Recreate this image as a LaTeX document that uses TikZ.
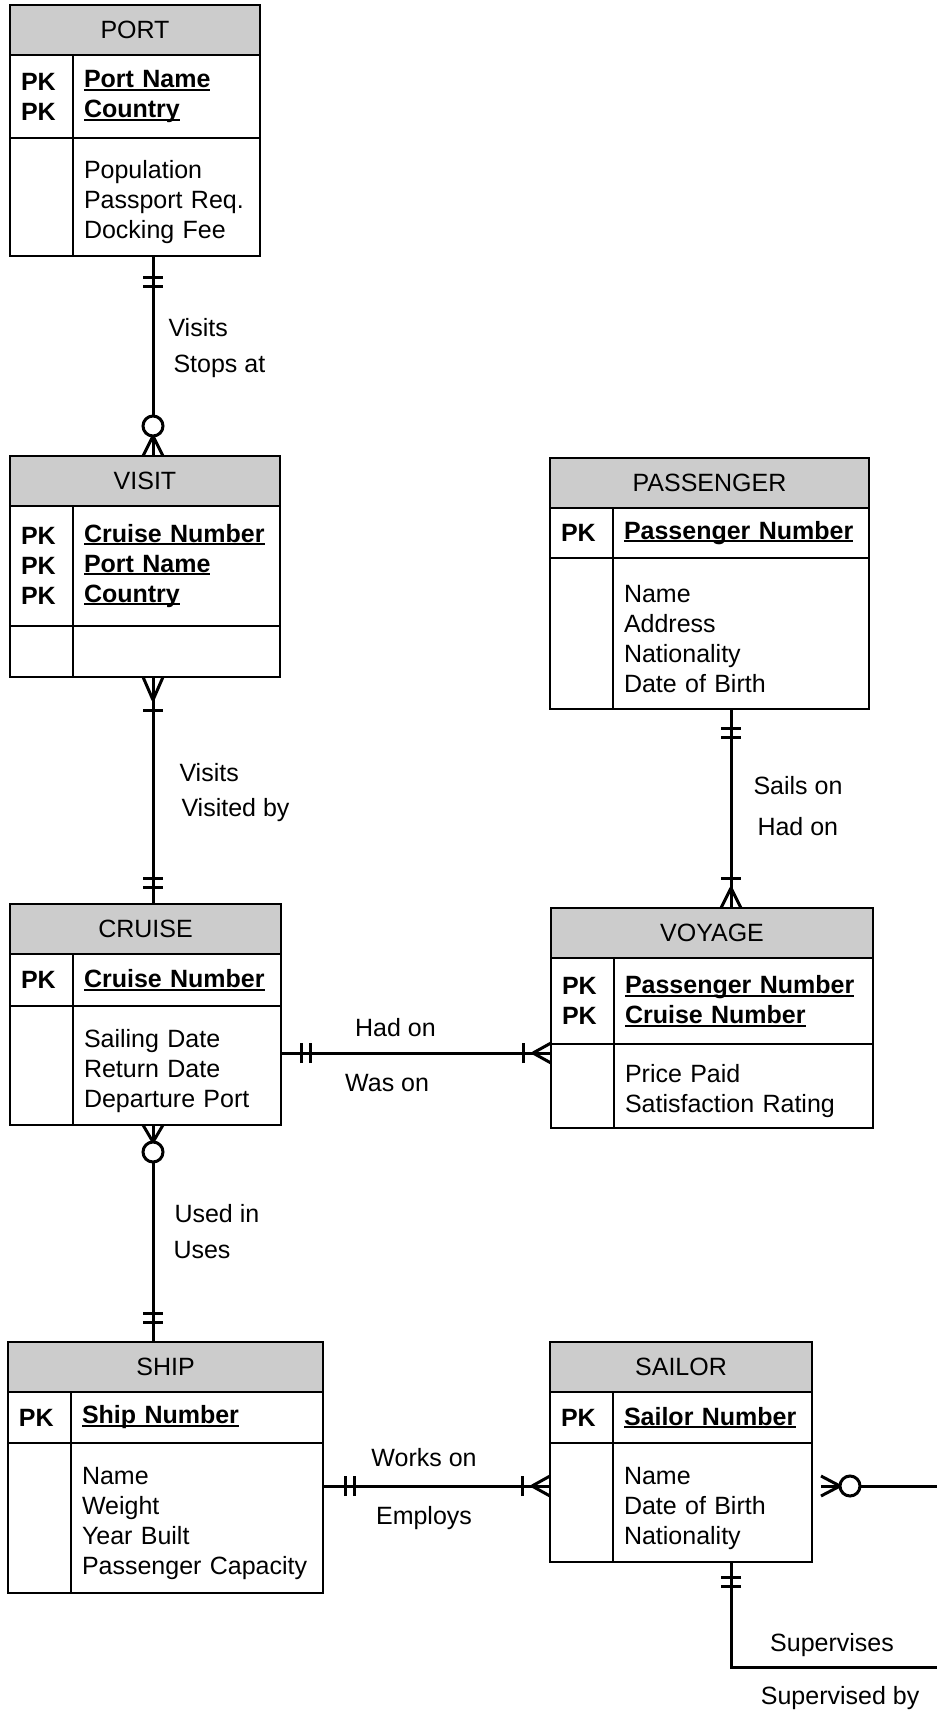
\documentclass[tikz,border=0pt]{standalone}
\usepackage{fontspec}
\setmainfont{Liberation Sans}
\usetikzlibrary{positioning,decorations.markings}
\newcommand\erfont{\fontsize{25pt}{30pt}\selectfont}
\newcommand\keyfield[1]{\leavevmode\setbox0\hbox{\bfseries #1}\rlap{\rule[-3pt]{\wd0}{2pt}}\box0}
\tikzset{
    ent-title/.style = {draw, fill=gray!40, line width=1.4pt, outer sep=0pt, anchor=north west, minimum height=50pt, inner sep=0pt, font=\erfont},
    ent-key/.style = {draw, line width=1.4pt, outer sep=0pt, anchor=north west, text width=41pt, inner xsep=11pt, inner ysep=0pt, align=left, font=\erfont\bfseries},
    ent-field/.style = {draw, line width=1.4pt, outer sep=0pt, anchor=north west, inner xsep=11pt, inner ysep=0pt, align=left, font=\erfont},
    ent-attr/.style = {ent-field, execute at begin node={\leavevmode\rule{0pt}{29pt}}},
    conn/.style = {line width=3pt},
    conn-label/.style = {inner sep=0pt, font=\erfont},
    one-start/.style = {postaction={decorate, decoration={markings,
        mark=at position #1 with {\draw[line width=3pt] (0pt,-10pt) -- (0pt,10pt);},
        mark=at position #1+9pt with {\draw[line width=3pt] (0pt,-10pt) -- (0pt,10pt);}}}},
    one-start/.default = 20pt,
    one-end/.style = {postaction={decorate, decoration={markings,
        mark=at position -#1 with {\draw[line width=3pt] (0pt,-10pt) -- (0pt,10pt);},
        mark=at position -#1-9pt with {\draw[line width=3pt] (0pt,-10pt) -- (0pt,10pt);}}}},
    one-end/.default = 20pt,
    one-many-start/.style = {postaction={decorate, decoration={markings,
        mark=at position #1 with {\draw[line width=3pt] (0pt,0pt) -- (-#1,10pt) (0pt,0pt) -- (-#1,-10pt);},
        mark=at position #1+10pt with {\draw[line width=3pt] (0pt,-10pt) -- (0pt,10pt);}}}},
    one-many-start/.default = 20pt,
    one-many-end/.style = {postaction={decorate, decoration={markings,
        mark=at position -#1 with {\draw[line width=3pt] (0pt,0pt) -- (#1,10pt) (0pt,0pt) -- (#1,-10pt);},
        mark=at position -#1-10pt with {\draw[line width=3pt] (0pt,-10pt) -- (0pt,10pt);}}}},
    one-many-end/.default = 20pt,
    zero-many-start/.style = {postaction={decorate, decoration={markings,
        mark=at position #1 with {\draw[line width=3pt] (0pt,0pt) -- (-#1,10pt) (0pt,0pt) -- (-#1,-10pt);},
        mark=at position #1+10pt with {\draw[line width=3pt, fill=white] (0pt,0pt) circle (10pt);}}}},
    zero-many-start/.default = 18pt,
    zero-many-end/.style = {postaction={decorate, decoration={markings,
        mark=at position -#1 with {\draw[line width=3pt] (0pt,0pt) -- (#1,10pt) (0pt,0pt) -- (#1,-10pt);},
        mark=at position -#1-10pt with {\draw[line width=3pt, fill=white] (0pt,0pt) circle (10pt);}}}},
    zero-many-end/.default = 20pt,
}

\begin{document}
\begin{tikzpicture}[x=1pt, y=-1pt]
\path[use as bounding box, clip] (0,0) rectangle (937,1711);

% PORT
\node[ent-title, minimum width=250pt] (port) at (10,5) {PORT};
\node[ent-key, minimum height=83pt] (port-pk) at (port.south west) {PK\\PK};
\node[ent-field, text width=165pt, minimum height=83pt] (port-kf) at (port-pk.north east) {\keyfield{Port Name}\\\keyfield{Country}};
\node[ent-key, minimum height=118pt] (port-ak) at (port-pk.south west) {};
\node[ent-attr, text width=165pt, minimum height=118pt] (port-af) at (port-ak.north east) {Population\\Passport Req.\\Docking Fee};

% VISIT
\node[ent-title, minimum width=270pt] (visit) at (10,456) {VISIT};
\node[ent-key, minimum height=120pt] (visit-pk) at (visit.south west) {PK\\PK\\PK};
\node[ent-field, text width=185pt, minimum height=120pt] (visit-kf) at (visit-pk.north east) {\keyfield{Cruise Number}\\\keyfield{Port Name}\\\keyfield{Country}};
\node[ent-key, minimum height=51pt] (visit-ak) at (visit-pk.south west) {};
\node[ent-field, text width=185pt, minimum height=51pt] (visit-af) at (visit-ak.north east) {};

% PASSENGER
\node[ent-title, minimum width=319pt] (pass) at (550,458) {PASSENGER};
\node[ent-key, minimum height=50pt] (pass-pk) at (pass.south west) {PK};
\node[ent-field, text width=234pt, minimum height=50pt] (pass-kf) at (pass-pk.north east) {\keyfield{Passenger Number}};
\node[ent-key, minimum height=151pt] (pass-ak) at (pass-pk.south west) {};
\node[ent-attr, text width=234pt, minimum height=151pt] (pass-af) at (pass-ak.north east) {Name\\Address\\Nationality\\Date of Birth};

% CRUISE
\node[ent-title, minimum width=271pt] (cruise) at (10,904) {CRUISE};
\node[ent-key, minimum height=52pt] (cruise-pk) at (cruise.south west) {PK};
\node[ent-field, text width=186pt, minimum height=52pt] (cruise-kf) at (cruise-pk.north east) {\keyfield{Cruise Number}};
\node[ent-key, minimum height=119pt] (cruise-ak) at (cruise-pk.south west) {};
\node[ent-attr, text width=186pt, minimum height=119pt] (cruise-af) at (cruise-ak.north east) {Sailing Date\\Return Date\\Departure Port};

% VOYAGE
\node[ent-title, minimum width=322pt] (voyage) at (551,908) {VOYAGE};
\node[ent-key, minimum height=86pt] (voyage-pk) at (voyage.south west) {PK\\PK};
\node[ent-field, text width=237pt, minimum height=86pt] (voyage-kf) at (voyage-pk.north east) {\keyfield{Passenger Number}\\\keyfield{Cruise Number}};
\node[ent-key, minimum height=84pt] (voyage-ak) at (voyage-pk.south west) {};
\node[ent-attr, text width=237pt, minimum height=84pt] (voyage-af) at (voyage-ak.north east) {Price Paid\\Satisfaction Rating};

% SHIP
\node[ent-title, minimum width=315pt] (ship) at (8,1342) {SHIP};
\node[ent-key, minimum height=51pt] (ship-pk) at (ship.south west) {PK};
\node[ent-field, text width=230pt, minimum height=51pt] (ship-kf) at (ship-pk.north east) {\keyfield{Ship Number}};
\node[ent-key, minimum height=150pt] (ship-ak) at (ship-pk.south west) {};
\node[ent-attr, text width=230pt, minimum height=150pt] (ship-af) at (ship-ak.north east) {Name\\Weight\\Year Built\\Passenger Capacity};

% SAILOR
\node[ent-title, minimum width=262pt] (sailor) at (550,1342) {SAILOR};
\node[ent-key, minimum height=51pt] (sailor-pk) at (sailor.south west) {PK};
\node[ent-field, text width=177pt, minimum height=51pt] (sailor-kf) at (sailor-pk.north east) {\keyfield{Sailor Number}};
\node[ent-key, minimum height=119pt] (sailor-ak) at (sailor-pk.south west) {};
\node[ent-attr, text width=177pt, minimum height=119pt] (sailor-af) at (sailor-ak.north east) {Name\\Date of Birth\\Nationality};

% relationships
\coordinate (lane-l) at (153,0);
\coordinate (lane-r) at (731,0);
\coordinate (link-a) at (0,1053);
\coordinate (link-b) at (0,1486);
\coordinate (loop-c) at (955,1667);

\draw[conn, one-start=21pt, zero-many-end] (port-af.south -| lane-l)
    -- node[conn-label, pos=.357, right=14pt] {Visits}
       node[conn-label, pos=.553, right=19pt] {Stops at} (visit.north -| lane-l);
\draw[conn, one-many-start=23pt, one-end=17pt] (visit-af.south -| lane-l)
    -- node[conn-label, pos=.42, right=25pt] {Visits}
       node[conn-label, pos=.586, right=27pt] {Visited by} (cruise.north -| lane-l);
\draw[conn, one-start=19pt, one-many-end] (pass-af.south -| lane-r)
    -- node[conn-label, pos=.385, right=21pt] {Sails on}
       node[conn-label, pos=.59, right=25pt] {Had on} (voyage.north -| lane-r);
\draw[conn, one-start, one-many-end=18pt] (cruise-af.east |- link-a)
    -- node[conn-label, pos=.424, anchor=base, yshift=17pt] {Had on}
       node[conn-label, pos=.393, anchor=base, yshift=-38pt] {Was on} (voyage-ak.west |- link-a);
\draw[conn, zero-many-start=17pt, one-end] (cruise-af.south -| lane-l)
    -- node[conn-label, pos=.41, right=20pt] {Used in}
       node[conn-label, pos=.576, right=19pt] {Uses} (ship.north -| lane-l);
\draw[conn, one-start=22pt, one-many-end=18pt] (ship-af.east |- link-b)
    -- node[conn-label, pos=.445, anchor=base, yshift=20pt] {Works on}
       node[conn-label, pos=.445, anchor=base, yshift=-38pt] {Employs} (sailor-ak.west |- link-b);
\draw[conn, zero-many-start=19pt, one-end=15pt] ([xshift=9pt]sailor-af.east |- link-b) -| (loop-c)
    -- node[conn-label, pos=.549, anchor=base, yshift=16pt] {Supervises}
       node[conn-label, pos=.513, anchor=base, yshift=-37pt] {Supervised by} (loop-c -| lane-r)
    -- (sailor-af.south -| lane-r);
\end{tikzpicture}
\end{document}
